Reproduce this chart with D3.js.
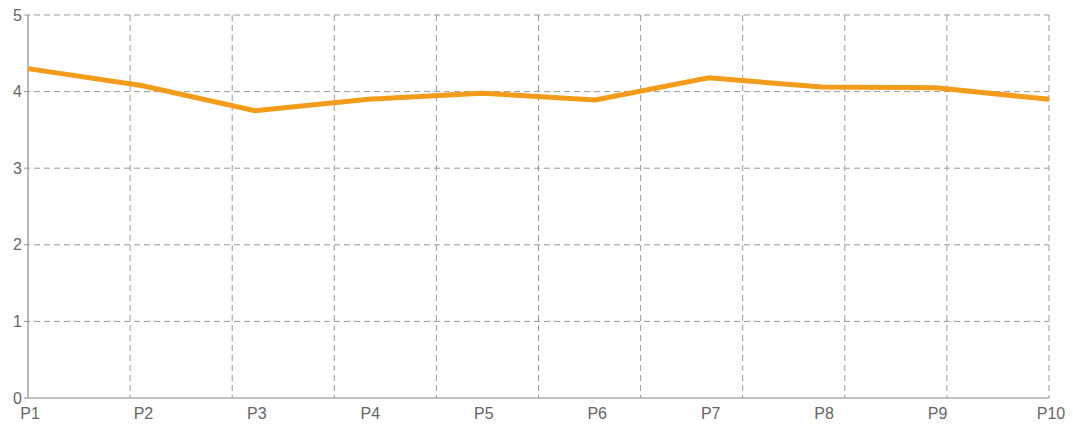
<!DOCTYPE html>
<html>
<head>
<meta charset="utf-8">
<script src="https://cdn.jsdelivr.net/npm/d3@7"></script>
<style>
  body { margin: 0; background: #fff; }
  text { font-family: "Liberation Sans", Arial, sans-serif; }
</style>
</head>
<body>
<div id="chart"></div>
<script>
let categories = ["P1", "P2", "P3", "P4", "P5", "P6", "P7", "P8", "P9", "P10"];
let values = [4.3, 4.08, 3.75, 3.9, 3.98, 3.89, 4.18, 4.06, 4.05, 3.9];
let yTicks = [0, 1, 2, 3, 4, 5];
let gridCount = 10;

let width = 1073, height = 430;
let margin = {top: 15, right: 24, bottom: 32, left: 28};
let innerW = width - margin.left - margin.right;
let innerH = height - margin.top - margin.bottom;

let svg = d3.select("#chart").append("svg")
    .attr("width", width)
    .attr("height", height);
let g = svg.append("g").attr("transform", `translate(${margin.left},${margin.top})`);

let x = d3.scalePoint().domain(categories).range([0, innerW]);
let y = d3.scaleLinear().domain([0, 5]).range([innerH, 0]);
// vertical grid uses its own even divisions
let gx = d3.scaleLinear().domain([0, gridCount]).range([0, innerW]);

// horizontal grid
g.append("g").selectAll("line").data(yTicks.slice(1)).enter().append("line")
    .attr("x1", -4).attr("x2", innerW)
    .attr("y1", d => y(d)).attr("y2", d => y(d))
    .attr("stroke", "#999").attr("stroke-dasharray", "6,4");

// vertical grid
g.append("g").selectAll("line").data(d3.range(1, gridCount + 1)).enter().append("line")
    .attr("x1", d => gx(d)).attr("x2", d => gx(d))
    .attr("y1", 0).attr("y2", innerH)
    .attr("stroke", "#999").attr("stroke-dasharray", "6,4");

// axes lines
g.append("line").attr("x1", 0).attr("x2", 0).attr("y1", 0).attr("y2", innerH)
    .attr("stroke", "#777");
g.append("line").attr("x1", -4).attr("x2", innerW).attr("y1", innerH).attr("y2", innerH)
    .attr("stroke", "#888");

// y labels
g.append("g").selectAll("text").data(yTicks).enter().append("text")
    .attr("x", -6).attr("y", d => y(d))
    .attr("dy", "0.35em")
    .attr("text-anchor", "end")
    .attr("font-size", 16)
    .attr("fill", "#666")
    .text(d => d);

// x labels
g.append("g").selectAll("text").data(categories).enter().append("text")
    .attr("x", d => x(d) + 2).attr("y", innerH + 21)
    .attr("text-anchor", "middle")
    .attr("font-size", 16)
    .attr("fill", "#666")
    .text(d => d);

// line
let line = d3.line()
    .x((d, i) => x(categories[i]))
    .y(d => y(d));
g.append("path").datum(values)
    .attr("d", line)
    .attr("fill", "none")
    .attr("stroke", "#f39c1a")
    .attr("stroke-width", 5)
    .attr("stroke-linejoin", "miter");
</script>
</body>
</html>
